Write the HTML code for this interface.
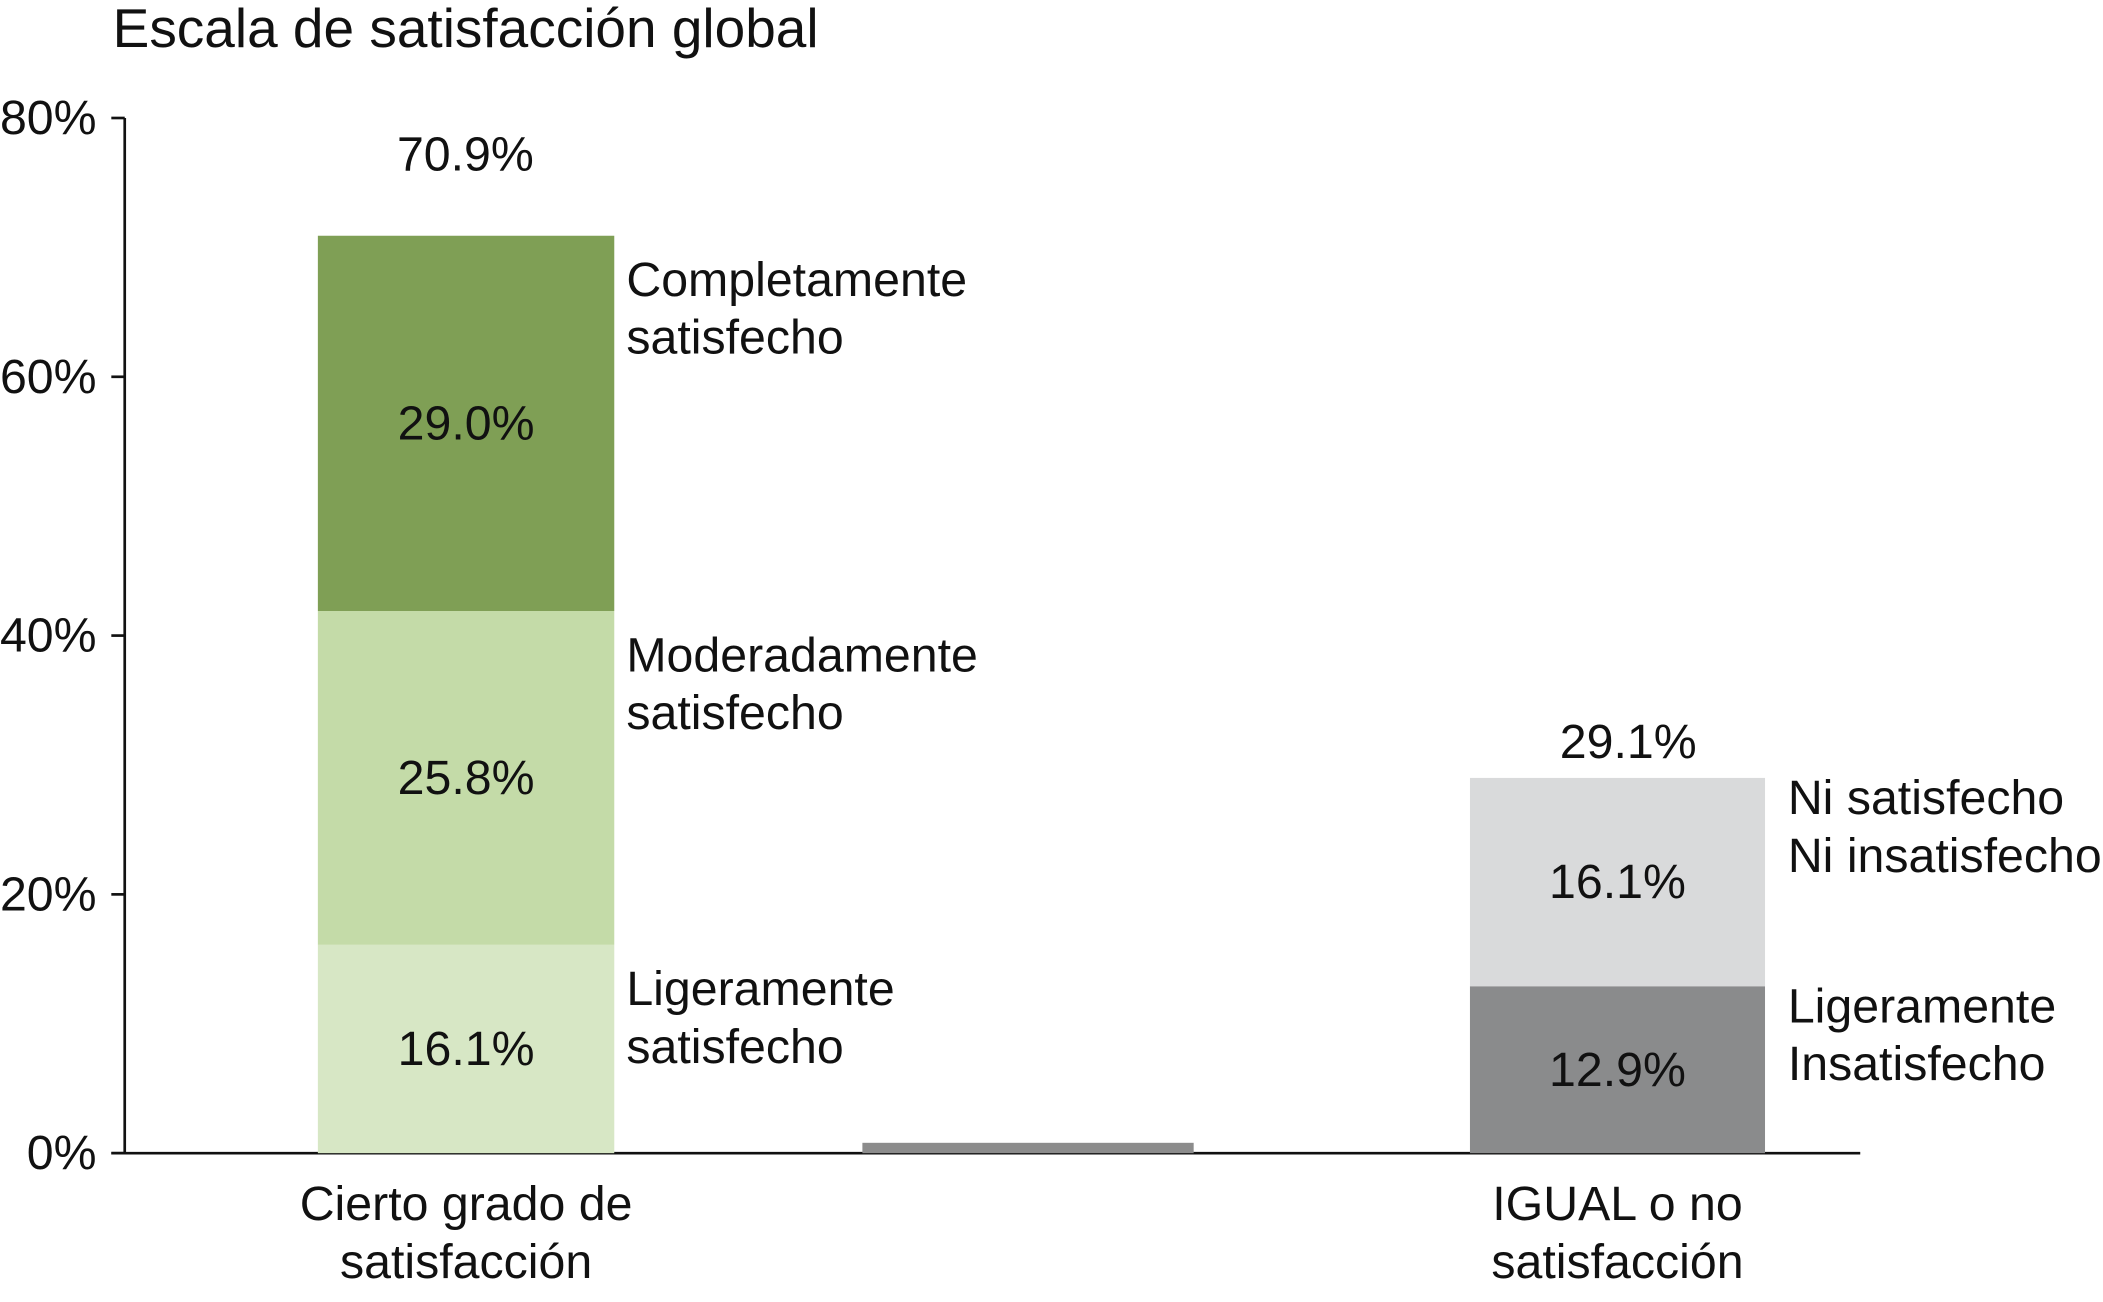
<!DOCTYPE html>
<html><head><meta charset="utf-8"><style>
html,body{margin:0;padding:0;background:#fff;}
svg{display:block;font-family:"Liberation Sans",sans-serif;}
</style></head><body>
<svg id="chart" width="2103" height="1302" viewBox="0 0 1568 971" preserveAspectRatio="none" xmlns="http://www.w3.org/2000/svg">
<text x="84" y="35" font-size="41" fill="#111">Escala de satisfacción global</text>
<g id="axes"></g>
<g id="bars"></g>
</svg>
<script>
const categories = ["Cierto grado de\nsatisfacción", "", "IGUAL o no\nsatisfacción"];
const seg1Values = [16.1, 25.8, 29.0];
const seg1Labels = ["Ligeramente\nsatisfecho", "Moderadamente\nsatisfecho", "Completamente\nsatisfecho"];
const seg2Values = [12.9, 16.1];
const seg2Labels = ["Ligeramente\nInsatisfecho", "Ni satisfecho\nNi insatisfecho"];
const middleValue = [0.8];
const totals = ["70.9%", "", "29.1%"];
const yTicks = [0, 20, 40, 60, 80];

const NS = "http://www.w3.org/2000/svg";
const y0 = 860, yTop = 88, vmax = 80;
const y = v => y0 - v * (y0 - yTop) / vmax;
const xLeft = [237, 643, 1096], xW = [221, 247, 220];
const FS = 36;
function mk(tag, attrs, parent){const e=document.createElementNS(NS,tag);for(const k in attrs)e.setAttribute(k,attrs[k]);parent.appendChild(e);return e;}
function txt(parent, x, yy, s, anchor, size){
  const t = mk("text",{x:x,y:yy,"font-size":size||FS,fill:"#111","text-anchor":anchor||"start"},parent);
  s.split("\n").forEach((line,i)=>{const ts=mk("tspan",{x:x,dy:i?43:0},t);ts.textContent=line;});
  return t;
}
const axes = document.getElementById("axes"), bars = document.getElementById("bars");
const ya = mk("line",{x1:93,y1:y(80),x2:93,y2:y0,stroke:"#111","stroke-width":2},axes);


const xa = mk("line",{x1:83,y1:y0,x2:1387,y2:y0,stroke:"#111","stroke-width":2},axes);


yTicks.forEach(v=>{
  const tk = mk("line",{x1:83,y1:y(v),x2:93,y2:y(v),stroke:"#111","stroke-width":2},axes);
  
  
  const t = txt(axes, 72, y(v)+12, v+"%", "end");
  
  
});
function stack(idx, vals, labels, colors, lx, ly){
  let acc=0;
  vals.forEach((v,i)=>{
    const r = mk("rect",{x:xLeft[idx],y:y(acc+v),width:xW[idx],height:y(acc)-y(acc+v),fill:colors[i]},bars);
    
    
    const mid = (y(acc)+y(acc+v))/2;
    const vl = txt(bars, xLeft[idx]+xW[idx]/2, mid+12, v.toFixed(1)+"%", "middle");
    
    
    const sl = txt(bars, xLeft[idx]+xW[idx]+lx, y(acc+v)+ly, labels[i], "start");
    
    
    acc+=v;
  });
}
stack(0, seg1Values, seg1Labels, ["#d7e7c5","#c4dba8","#7f9f55"], 9, 45);
stack(2, seg2Values, seg2Labels, ["#8a8b8c","#d9dadb"], 17, 27);
const mb = mk("rect",{x:xLeft[1],y:y(middleValue[0]),width:xW[1],height:y0-y(middleValue[0]),fill:"#8c8c8c"},bars);


const tt1 = txt(bars, 347, 127, totals[0], "middle");


const tt2 = txt(bars, 1214, y(29.1)-14, totals[2], "middle");


[0,2].forEach(i=>{
  const c = txt(axes, xLeft[i]+xW[i]/2, 910, categories[i], "middle");
  
  
});
</script>
</body></html>
